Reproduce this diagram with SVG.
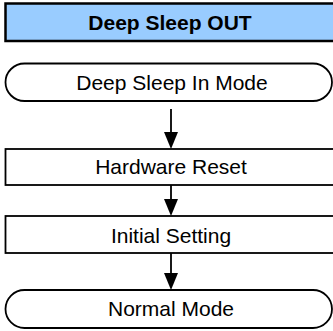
<svg xmlns="http://www.w3.org/2000/svg" width="333" height="331" viewBox="0 0 333 331">
<defs>
<style>
.box{fill:#fff;stroke:#000;stroke-width:1.8}
.hdr{fill:#99CCFF;stroke:#000;stroke-width:2.5}
.t{font-family:"Liberation Sans",Arial,sans-serif;font-size:21px;text-anchor:middle;fill:#000}
.b{font-weight:bold}
.c{stroke:#000;stroke-width:1.8;fill:none}
.ah{fill:#000}
</style>
</defs>
<g id="header">
<rect class="hdr" x="5.5" y="3.5" width="340" height="37.5"/>
<text class="t b" x="170" y="29.5">Deep Sleep OUT</text>
</g>
<g id="deep-sleep-in">
<rect class="box" x="5.5" y="63.5" width="326.5" height="37.5" rx="19" ry="18.75"/>
<text class="t" x="172" y="89.5">Deep Sleep In Mode</text>
</g>
<g id="hardware-reset">
<rect class="box" x="5.5" y="149" width="340" height="36"/>
<text class="t" x="171" y="173.5">Hardware Reset</text>
</g>
<g id="initial-setting">
<rect class="box" x="5.5" y="216" width="340" height="37"/>
<text class="t" x="171" y="242.5">Initial Setting</text>
</g>
<g id="normal-mode">
<rect class="box" x="5.5" y="290" width="326.5" height="38" rx="19" ry="19"/>
<text class="t" x="171" y="315.5">Normal Mode</text>
</g>
<g id="connectors">
<line class="c" x1="171" y1="109" x2="171" y2="134"/>
<polygon class="ah" points="164,132 178,132 171,149"/>
<line class="c" x1="171" y1="185" x2="171" y2="201"/>
<polygon class="ah" points="164,199 178,199 171,216"/>
<line class="c" x1="171" y1="253" x2="171" y2="275"/>
<polygon class="ah" points="164,273 178,273 171,290"/>
</g>
</svg>
